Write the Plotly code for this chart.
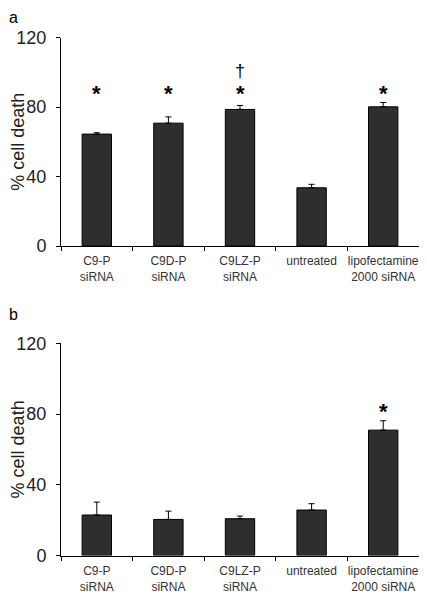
import plotly.graph_objects as go

categories = ["C9-P<br>siRNA", "C9D-P<br>siRNA", "C9LZ-P<br>siRNA", "untreated", "lipofectamine<br>2000 siRNA"]

# Panel a
values_a = [64.4, 70.7, 78.6, 33.5, 80.1]
errors_a = [0.8, 3.6, 2.3, 2.0, 2.5]
stars_a = [88, 88, 88, None, 88]
daggers_a = [None, None, 101, None, None]

# Panel b
values_b = [22.9, 20.4, 20.8, 25.7, 70.9]
errors_b = [7.3, 4.7, 1.5, 3.6, 5.3]
stars_b = [None, None, None, None, 81.6]

y_ticks = [0, 40, 80, 120]
panel_labels = ["a", "b"]

FONT = "Liberation Sans, Arial, sans-serif"
BAR_COLOR = "#2e2e2e"

# page body has an 8px margin: figure is laid out in page coordinates minus 8
W, H = 419, 592
OFF = 8

fig = go.Figure()

def add_bars(vals, errs, xa, ya):
    fig.add_trace(go.Bar(
        x=categories, y=vals, xaxis=xa, yaxis=ya,
        marker=dict(color=BAR_COLOR, line=dict(color="#000000", width=1)),
        error_y=dict(type="data", array=errs, arrayminus=[0] * len(errs), symmetric=False,
                     color="#000000", thickness=1, width=3),
        showlegend=False, hoverinfo="skip",
    ))

add_bars(values_a, errors_a, "x", "y")
add_bars(values_b, errors_b, "x2", "y2")

annotations = []
def add_marks(marks, symbol, xref, yref, size):
    for cat, v in zip(categories, marks):
        if v is None:
            continue
        annotations.append(dict(x=cat, y=v, xref=xref, yref=yref, text=symbol, showarrow=False,
                                yanchor="middle", xanchor="center",
                                font=dict(family=FONT, size=size, color="#000000")))

add_marks(stars_a, "<b>*</b>", "x", "y", 22)
add_marks(daggers_a, "†", "x", "y", 18)
add_marks(stars_b, "<b>*</b>", "x2", "y2", 22)

L, R = 61 - OFF, 8
plot_w = W - L - R

def dom(top_px, bottom_px):
    return [1 - (bottom_px - OFF) / H, 1 - (top_px - OFF) / H]

annotations.append(dict(x=-L / plot_w, y=1.0, xref="paper", yref="paper", text=panel_labels[0],
                        showarrow=False, xanchor="left", yanchor="top", borderpad=0,
                        font=dict(family=FONT, size=16, color="#000000")))
annotations.append(dict(x=-L / plot_w, y=1 - (315 - OFF) / H, xref="paper", yref="paper", text=panel_labels[1],
                        showarrow=False, xanchor="left", yanchor="middle", borderpad=0,
                        font=dict(family=FONT, size=16, color="#000000")))

xaxis_common = dict(
    type="category", showline=True, linecolor="#000000", linewidth=1,
    ticks="outside", ticklen=4, tickcolor="#000000", tickson="boundaries",
    showgrid=False, zeroline=False, automargin=False, ticklabelstandoff=4, tickangle=0,
    tickfont=dict(family=FONT, size=12, color="#333333"), fixedrange=True,
)
yaxis_common = dict(
    range=[0, 120], tickvals=y_ticks, showline=True, linecolor="#000000", linewidth=1,
    ticks="outside", ticklen=4, tickcolor="#000000", showgrid=False, zeroline=False,
    automargin=False, tickfont=dict(family=FONT, size=18, color="#222222"), ticklabelstandoff=6,
    title=dict(text="% cell death", font=dict(family=FONT, size=18, color="#222222"), standoff=4),
)

fig.update_layout(
    width=W, height=H,
    margin=dict(l=L, r=R, t=0, b=0),
    template="none",
    plot_bgcolor="white", paper_bgcolor="white",
    bargap=0.59,
    xaxis=dict(domain=[0, 1], anchor="y", **xaxis_common),
    yaxis=dict(domain=dom(37.5, 246), anchor="x", **yaxis_common),
    xaxis2=dict(domain=[0, 1], anchor="y2", **xaxis_common),
    yaxis2=dict(domain=dom(343.3, 555.5), anchor="x2", **yaxis_common),
    annotations=annotations,
    font=dict(family=FONT),
)

fig.write_html("out.html")
